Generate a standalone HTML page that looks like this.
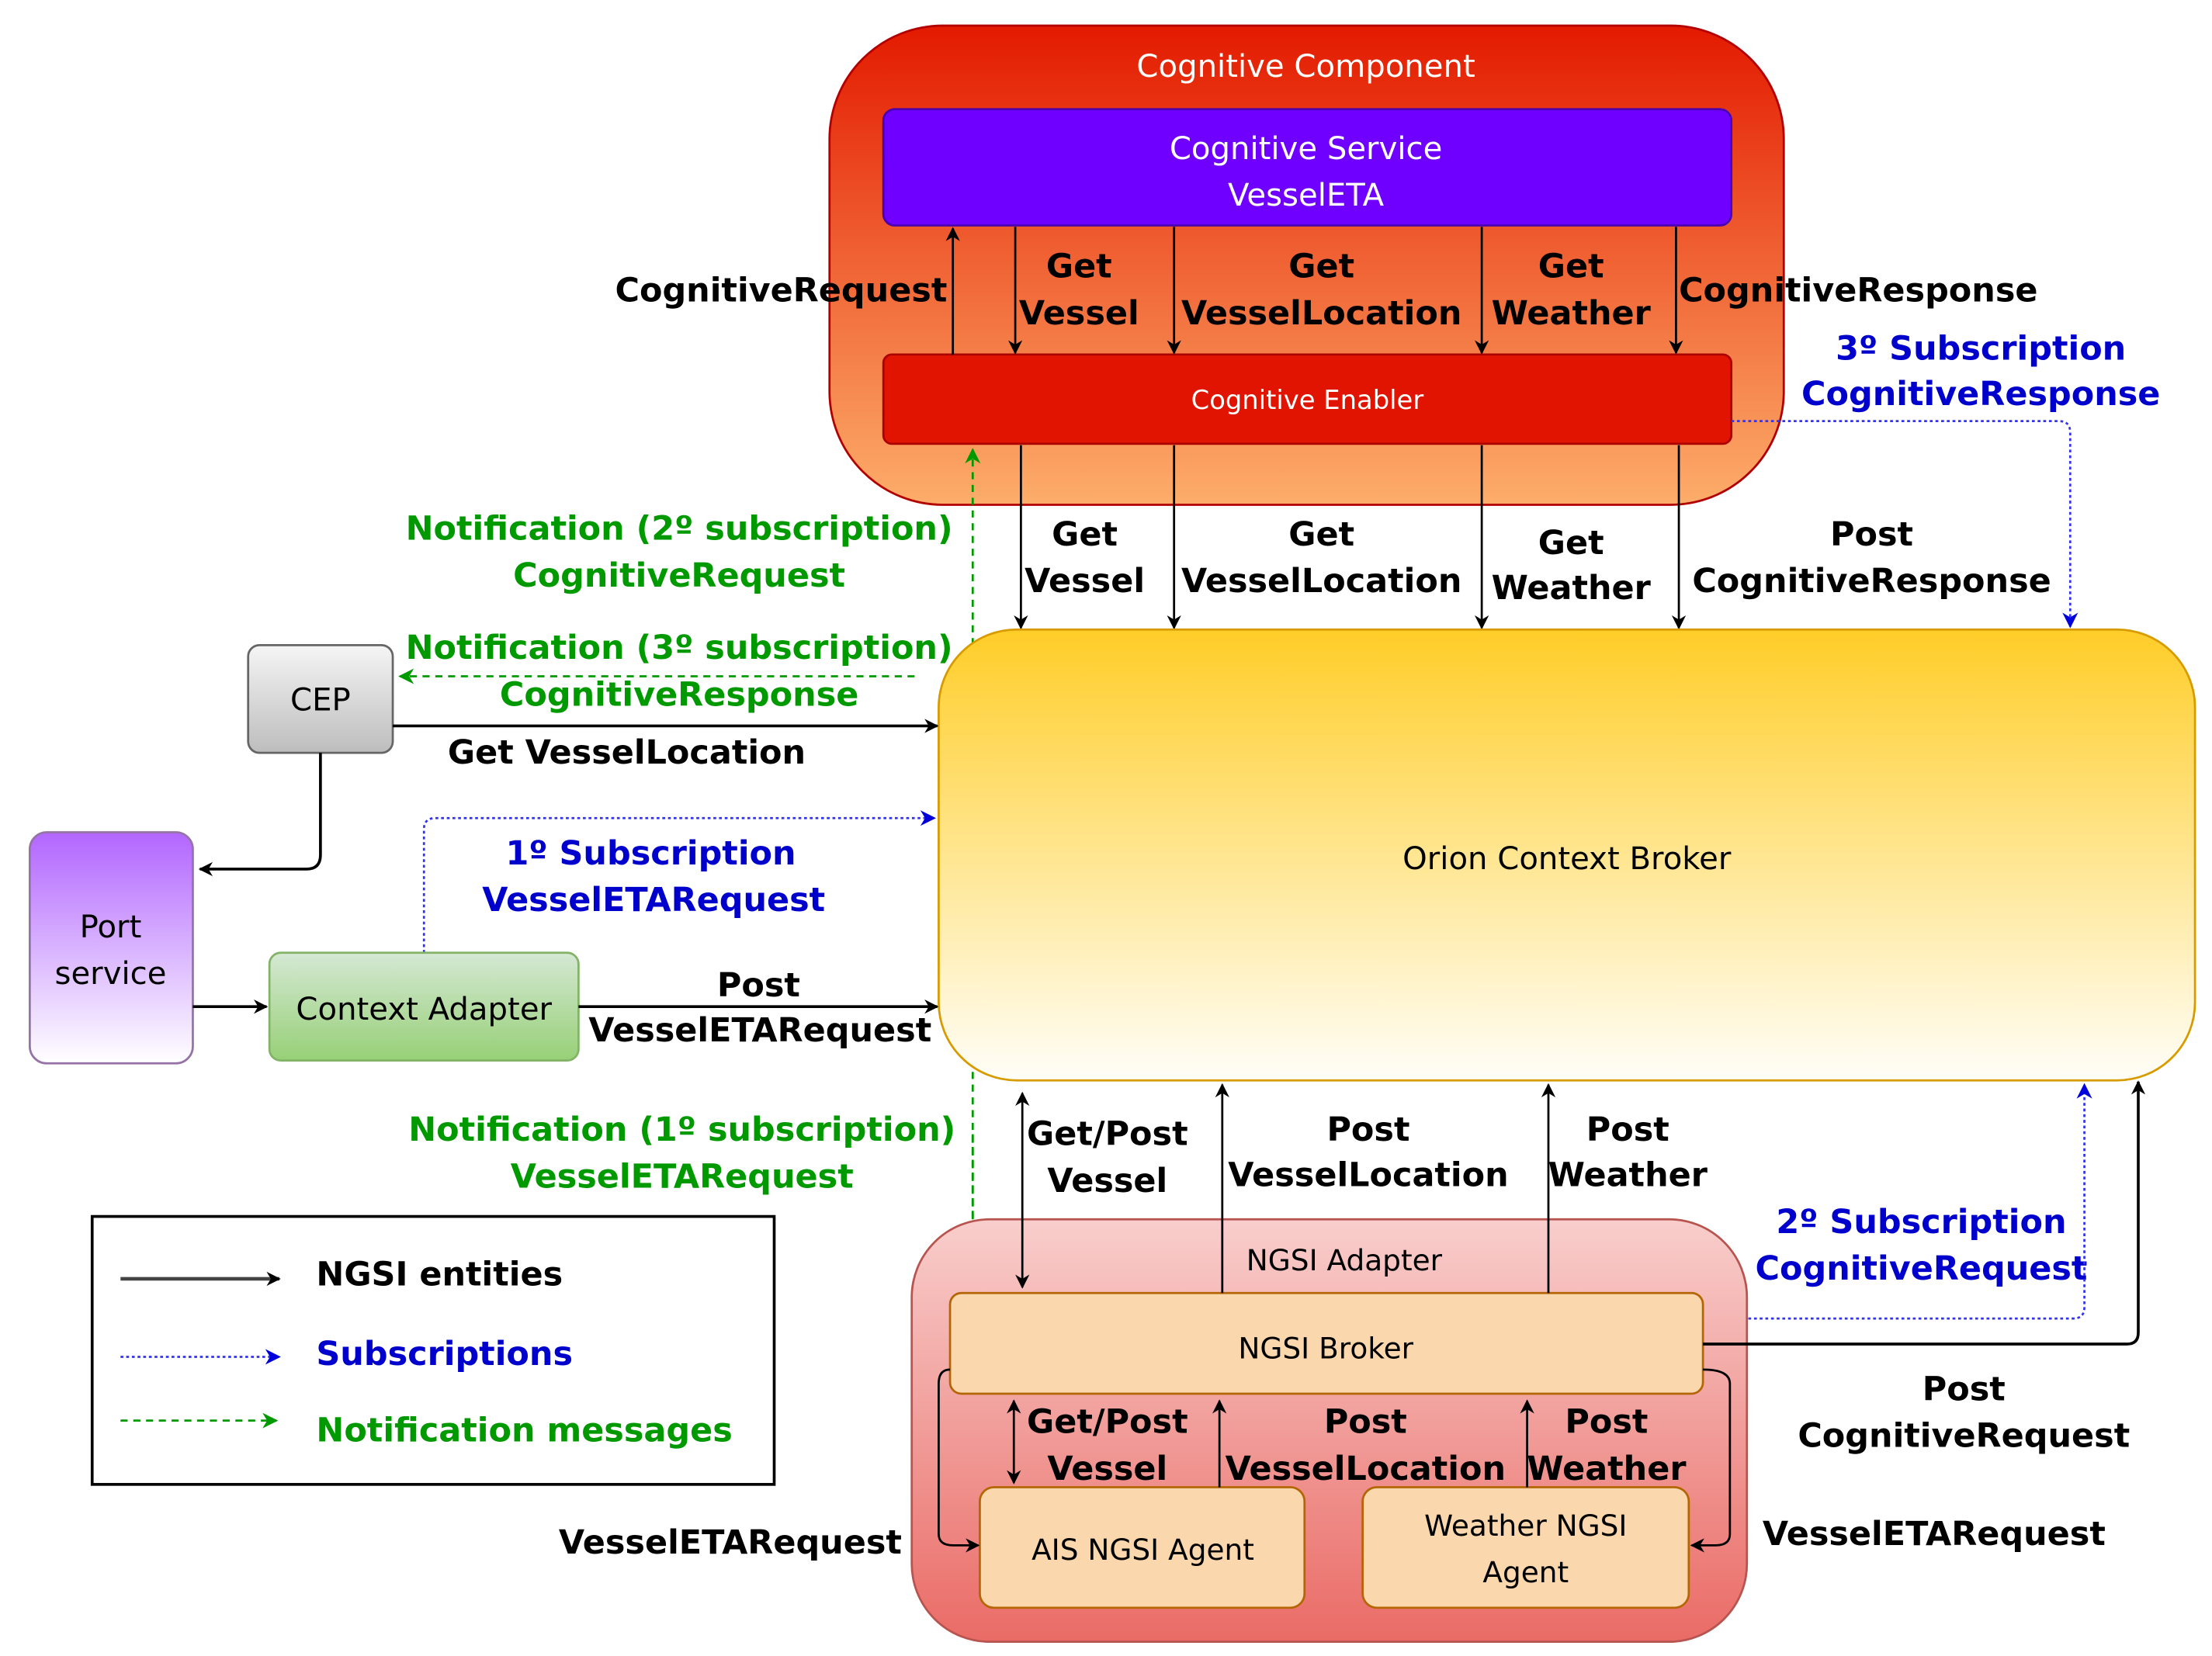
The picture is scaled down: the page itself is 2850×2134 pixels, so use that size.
<!DOCTYPE html>
<html><head><meta charset="utf-8"><style>html,body{margin:0;padding:0;background:#fff}svg{display:block}text{font-family:"DejaVu Sans","Liberation Sans",sans-serif}</style></head><body>
<svg width="2850" height="2134" viewBox="0 0 1560 1168" xmlns="http://www.w3.org/2000/svg">
<defs>
<linearGradient id="gc" x1="0" y1="0" x2="0" y2="1"><stop offset="0" stop-color="#e31a00"/><stop offset="1" stop-color="#fdad6a"/></linearGradient>
<linearGradient id="go" x1="0" y1="0" x2="0" y2="1"><stop offset="0" stop-color="#ffcd28"/><stop offset="1" stop-color="#fffef8"/></linearGradient>
<linearGradient id="gn" x1="0" y1="0" x2="0" y2="1"><stop offset="0" stop-color="#f8cecc"/><stop offset="1" stop-color="#ea6b66"/></linearGradient>
<linearGradient id="gcep" x1="0" y1="0" x2="0" y2="1"><stop offset="0" stop-color="#f5f5f5"/><stop offset="1" stop-color="#bdbdbd"/></linearGradient>
<linearGradient id="gp" x1="0" y1="0" x2="0" y2="1"><stop offset="0" stop-color="#b266ff"/><stop offset="1" stop-color="#ffffff"/></linearGradient>
<linearGradient id="gca" x1="0" y1="0" x2="0" y2="1"><stop offset="0" stop-color="#d5e8d4"/><stop offset="1" stop-color="#97d077"/></linearGradient>
<marker id="ab" viewBox="0 0 10 10" refX="9" refY="5" markerWidth="10" markerHeight="10" orient="auto-start-reverse" markerUnits="userSpaceOnUse"><path d="M0,0 L10,5 L0,10 L3,5 z" fill="#000"/></marker>
<marker id="abl" viewBox="0 0 10 10" refX="9" refY="5" markerWidth="11" markerHeight="11" orient="auto-start-reverse" markerUnits="userSpaceOnUse"><path d="M0,0 L10,5 L0,10 L3,5 z" fill="#0000dd"/></marker>
<marker id="ag" viewBox="0 0 10 10" refX="9" refY="5" markerWidth="11" markerHeight="11" orient="auto-start-reverse" markerUnits="userSpaceOnUse"><path d="M0,0 L10,5 L0,10 L3,5 z" fill="#009900"/></marker>
</defs>

<rect x="585" y="18" width="673" height="338" rx="80" fill="url(#gc)" stroke="#b20000" stroke-width="1.5"/>
<text x="921" y="47" font-size="22" fill="#fff" text-anchor="middle" dominant-baseline="central">Cognitive Component</text>
<rect x="623" y="77" width="598" height="82" rx="8" fill="#6f00ff" stroke="#4a00b0" stroke-width="1.5"/>
<text x="921" y="105" font-size="22" fill="#fff" text-anchor="middle" dominant-baseline="central">Cognitive Service</text>
<text x="921" y="138" font-size="22" fill="#fff" text-anchor="middle" dominant-baseline="central">VesselETA</text>
<rect x="623" y="250" width="598" height="63" rx="6" fill="#e01400" stroke="#a00" stroke-width="1.5"/>
<text x="922" y="282" font-size="18.5" fill="#fff" text-anchor="middle" dominant-baseline="central">Cognitive Enabler</text>

<g stroke="#000" stroke-width="1.5" fill="none">
<line x1="672" y1="250" x2="672" y2="161" marker-end="url(#ab)"/>
<line x1="716" y1="160" x2="716" y2="249" marker-end="url(#ab)"/>
<line x1="828" y1="160" x2="828" y2="249" marker-end="url(#ab)"/>
<line x1="1045" y1="160" x2="1045" y2="249" marker-end="url(#ab)"/>
<line x1="1182" y1="160" x2="1182" y2="249" marker-end="url(#ab)"/>
<line x1="720" y1="314" x2="720" y2="443" marker-end="url(#ab)"/>
<line x1="828" y1="314" x2="828" y2="443" marker-end="url(#ab)"/>
<line x1="1045" y1="314" x2="1045" y2="443" marker-end="url(#ab)"/>
<line x1="1184" y1="314" x2="1184" y2="443" marker-end="url(#ab)"/>
</g>

<g font-size="23.5" font-weight="bold" fill="#000" dominant-baseline="central" text-anchor="middle">
<text x="668" y="205" text-anchor="end">CognitiveRequest</text>
<text x="761" y="188">Get</text><text x="761" y="221">Vessel</text>
<text x="932" y="188">Get</text><text x="932" y="221">VesselLocation</text>
<text x="1108" y="188">Get</text><text x="1108" y="221">Weather</text>
<text x="1184" y="205" text-anchor="start">CognitiveResponse</text>
<text x="765" y="377">Get</text><text x="765" y="410">Vessel</text>
<text x="932" y="377">Get</text><text x="932" y="410">VesselLocation</text>
<text x="1108" y="383">Get</text><text x="1108" y="415">Weather</text>
<text x="1320" y="377">Post</text><text x="1320" y="410">CognitiveResponse</text>
</g>

<g font-size="23.5" font-weight="bold" fill="#0000cc" dominant-baseline="central" text-anchor="middle">
<text x="1397" y="246">3º Subscription</text><text x="1397" y="278">CognitiveResponse</text>
<text x="459" y="602">1º Subscription</text><text x="461" y="635">VesselETARequest</text>
<text x="1355" y="862">2º Subscription</text><text x="1355" y="895">CognitiveRequest</text>
</g>
<g font-size="23.5" font-weight="bold" fill="#009900" dominant-baseline="central" text-anchor="middle">
<text x="479" y="373">Notification (2º subscription)</text><text x="479" y="406">CognitiveRequest</text>
<text x="479" y="457">Notification (3º subscription)</text><text x="479" y="490">CognitiveResponse</text>
<text x="481" y="797">Notification (1º subscription)</text><text x="481" y="830">VesselETARequest</text>
</g>

<g fill="none" stroke-width="1.5">
<path d="M1221,297 H1452 Q1460,297 1460,305 V442" stroke="#3333ee" stroke-dasharray="2,2" marker-end="url(#abl)"/>
<path d="M686,905 V317" stroke="#009900" stroke-dasharray="5,4" marker-end="url(#ag)"/>
<path d="M686,800 V908" stroke="#009900" stroke-dasharray="5,4" marker-end="url(#ag)"/>
<path d="M645,477 H282" stroke="#009900" stroke-dasharray="5,4" marker-end="url(#ag)"/>
<path d="M299,672 V585 Q299,577 307,577 H659" stroke="#3333ee" stroke-dasharray="2,2" marker-end="url(#abl)"/>
<path d="M1201,930 H1462 Q1470,930 1470,922 V765" stroke="#3333ee" stroke-dasharray="2,2" marker-end="url(#abl)"/>
</g>

<rect x="662" y="444" width="886" height="318" rx="55" fill="url(#go)" stroke="#d79b00" stroke-width="1.5"/>
<text x="1105" y="606" font-size="22" text-anchor="middle" dominant-baseline="central">Orion Context Broker</text>

<rect x="175" y="455" width="102" height="76" rx="8" fill="url(#gcep)" stroke="#666" stroke-width="1.5"/>
<text x="226" y="494" font-size="22" text-anchor="middle" dominant-baseline="central">CEP</text>
<rect x="21" y="587" width="115" height="163" rx="12" fill="url(#gp)" stroke="#9673a6" stroke-width="1.5"/>
<text x="78" y="654" font-size="22" text-anchor="middle" dominant-baseline="central">Port</text>
<text x="78" y="687" font-size="22" text-anchor="middle" dominant-baseline="central">service</text>
<rect x="190" y="672" width="218" height="76" rx="8" fill="url(#gca)" stroke="#82b366" stroke-width="1.5"/>
<text x="299" y="712" font-size="22" text-anchor="middle" dominant-baseline="central">Context Adapter</text>

<g stroke="#000" fill="none" stroke-width="2">
<line x1="277" y1="512" x2="661" y2="512" marker-end="url(#ab)"/>
<path d="M226,531 V603 Q226,613 216,613 H141" marker-end="url(#ab)"/>
<line x1="136" y1="710" x2="188" y2="710" marker-end="url(#ab)"/>
<line x1="408" y1="710" x2="661" y2="710" marker-end="url(#ab)"/>
</g>
<g font-size="23.5" font-weight="bold" text-anchor="middle" dominant-baseline="central">
<text x="442" y="531">Get VesselLocation</text>
<text x="535" y="695">Post</text><text x="536" y="727">VesselETARequest</text>
</g>

<rect x="643" y="860" width="589" height="298" rx="55" fill="url(#gn)" stroke="#b85450" stroke-width="1.5"/>
<text x="948" y="889" font-size="20.5" text-anchor="middle" dominant-baseline="central">NGSI Adapter</text>
<rect x="670" y="912" width="531" height="71" rx="8" fill="#fad7ac" stroke="#b46504" stroke-width="1.5"/>
<text x="935" y="951" font-size="20.5" text-anchor="middle" dominant-baseline="central">NGSI Broker</text>
<rect x="691" y="1049" width="229" height="85" rx="10" fill="#fad7ac" stroke="#b46504" stroke-width="1.5"/>
<text x="806" y="1093" font-size="20.5" text-anchor="middle" dominant-baseline="central">AIS NGSI Agent</text>
<rect x="961" y="1049" width="230" height="85" rx="10" fill="#fad7ac" stroke="#b46504" stroke-width="1.5"/>
<text x="1076" y="1076" font-size="20.5" text-anchor="middle" dominant-baseline="central">Weather NGSI</text>
<text x="1076" y="1109" font-size="20.5" text-anchor="middle" dominant-baseline="central">Agent</text>

<g stroke="#000" fill="none" stroke-width="1.5">
<line x1="721" y1="771" x2="721" y2="908" marker-start="url(#ab)" marker-end="url(#ab)"/>
<line x1="862" y1="912" x2="862" y2="765" marker-end="url(#ab)"/>
<line x1="1092" y1="912" x2="1092" y2="765" marker-end="url(#ab)"/>
<path d="M1201,948 H1500 Q1508,948 1508,940 V763" stroke-width="2" marker-end="url(#ab)"/>
<line x1="715" y1="988" x2="715" y2="1046" marker-start="url(#ab)" marker-end="url(#ab)"/>
<line x1="860" y1="1049" x2="860" y2="988" marker-end="url(#ab)"/>
<line x1="1077" y1="1049" x2="1077" y2="988" marker-end="url(#ab)"/>
<path d="M670,966 Q662,966 662,976 V1082 Q662,1090 672,1090 H690" marker-end="url(#ab)"/>
<path d="M1201,966 Q1220,966 1220,976 V1082 Q1220,1090 1210,1090 H1193" marker-end="url(#ab)"/>
</g>
<g font-size="23.5" font-weight="bold" text-anchor="middle" dominant-baseline="central">
<text x="781" y="800">Get/Post</text><text x="781" y="833">Vessel</text>
<text x="965" y="797">Post</text><text x="965" y="829">VesselLocation</text>
<text x="1148" y="797">Post</text><text x="1148" y="829">Weather</text>
<text x="1385" y="980">Post</text><text x="1385" y="1013">CognitiveRequest</text>
<text x="781" y="1003">Get/Post</text><text x="781" y="1036">Vessel</text>
<text x="963" y="1003">Post</text><text x="963" y="1036">VesselLocation</text>
<text x="1133" y="1003">Post</text><text x="1133" y="1036">Weather</text>
<text x="636" y="1088" text-anchor="end">VesselETARequest</text>
<text x="1243" y="1082" text-anchor="start">VesselETARequest</text>
</g>

<rect x="65" y="858" width="481" height="189" fill="#fff" stroke="#000" stroke-width="2"/>
<line x1="85" y1="902" x2="197" y2="902" stroke="#444" stroke-width="2.5" marker-end="url(#ab)"/>
<line x1="85" y1="957" x2="197" y2="957" stroke="#3333ee" stroke-width="1.5" stroke-dasharray="2,2" marker-end="url(#abl)"/>
<line x1="85" y1="1002" x2="195" y2="1002" stroke="#009900" stroke-width="1.5" stroke-dasharray="5,4" marker-end="url(#ag)"/>
<g font-size="23.5" font-weight="bold" dominant-baseline="central">
<text x="223" y="899">NGSI entities</text>
<text x="223" y="955" fill="#0000cc">Subscriptions</text>
<text x="223" y="1009" fill="#009900">Notification messages</text>
</g>
</svg>
</body></html>
